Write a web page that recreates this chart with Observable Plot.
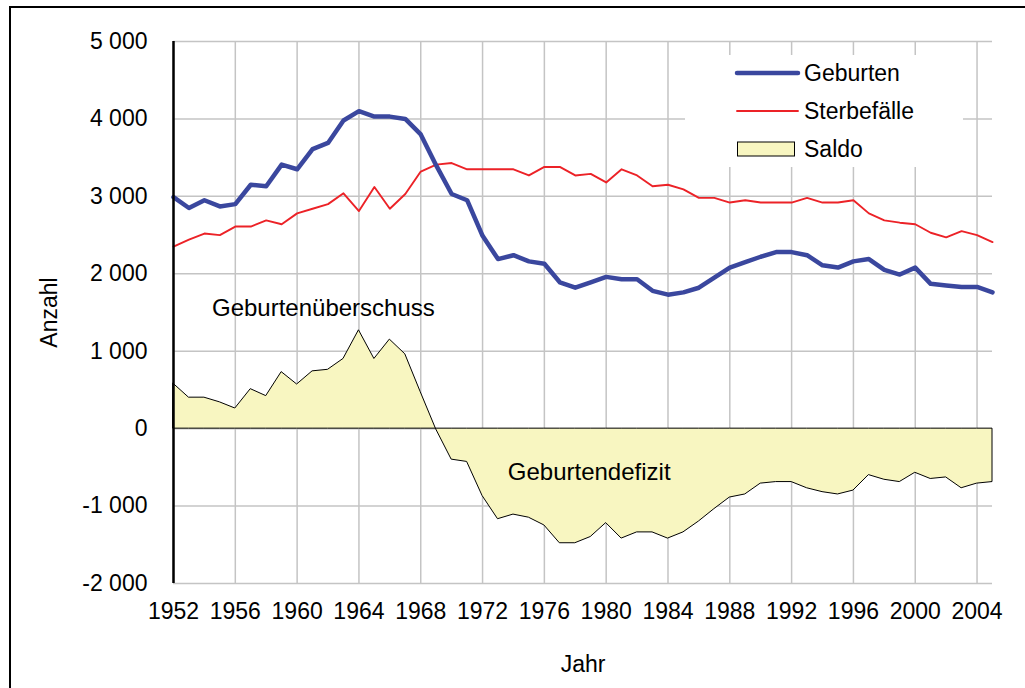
<!DOCTYPE html>
<html>
<head>
<meta charset="utf-8">
<script src="https://cdn.jsdelivr.net/npm/d3@7"></script>
<script src="https://cdn.jsdelivr.net/npm/@observablehq/plot@0.6"></script>
<style>
  html, body { margin: 0; padding: 0; background: #fff; overflow: hidden; }
  #wrap { position: relative; width: 1025px; height: 688px; overflow: hidden; font-family: "Liberation Sans", Arial, sans-serif; }
  #frame { position: absolute; left: 9px; top: 6px; width: 1100px; height: 760px; border: 2px solid #000; box-sizing: border-box; pointer-events: none; }
  #chart { position: absolute; left: 0; top: 0; }
  #legend { position: absolute; left: 685px; top: 55px; width: 278px; height: 112px; background: #fff; }
</style>
</head>
<body>
<div id="wrap">
  <div id="chart"></div>
  <div id="legend"></div>
  <div id="frame"></div>
</div>
<script>
const years = [1952,1953,1954,1955,1956,1957,1958,1959,1960,1961,1962,1963,1964,1965,1966,1967,1968,1969,1970,1971,1972,1973,1974,1975,1976,1977,1978,1979,1980,1981,1982,1983,1984,1985,1986,1987,1988,1989,1990,1991,1992,1993,1994,1995,1996,1997,1998,1999,2000,2001,2002,2003,2004,2005];
const geburten = [2990,2850,2950,2870,2900,3150,3130,3410,3350,3610,3690,3980,4100,4030,4030,4000,3800,3400,3030,2950,2490,2190,2240,2160,2130,1890,1820,1890,1960,1930,1930,1780,1730,1760,1820,1950,2080,2150,2220,2280,2280,2240,2110,2080,2160,2190,2050,1990,2080,1870,1850,1830,1830,1760];
const sterbefaelle = [2350,2440,2520,2500,2610,2610,2690,2640,2780,2840,2900,3040,2810,3120,2840,3030,3320,3410,3430,3350,3350,3350,3350,3270,3380,3380,3270,3290,3180,3350,3270,3130,3150,3090,2980,2980,2920,2950,2920,2920,2920,2980,2920,2920,2950,2780,2690,2660,2640,2530,2470,2550,2500,2410];
const saldo = [580,400,400,340,260,510,420,730,570,740,760,900,1270,900,1150,960,470,-10,-400,-430,-870,-1170,-1110,-1150,-1250,-1480,-1480,-1400,-1220,-1420,-1340,-1340,-1420,-1340,-1200,-1040,-890,-850,-710,-690,-690,-770,-820,-850,-800,-600,-660,-690,-570,-650,-630,-770,-710,-690];
const xTicks = [1952,1956,1960,1964,1968,1972,1976,1980,1984,1988,1992,1996,2000,2004];
const yTicks = [-2000,-1000,0,1000,2000,3000,4000,5000];
const seriesNames = ["Geburten","Sterbefälle","Saldo"];
const annotations = [
  {text: "Geburtenüberschuss", year: 1961.7, value: 1550},
  {text: "Geburtendefizit", year: 1978.9, value: -560}
];

const colors = {blue: "#3a479e", red: "#ec2227", fill: "#f8f6c1"};

const rows = years.map((y, i) => ({year: y, geburten: geburten[i], sterbe: sterbefaelle[i], saldo: saldo[i]}));
const fmt = d3.formatLocale({decimal: ",", thousands: " ", grouping: [3], currency: ["", ""], minus: "-"}).format(",d");

const chart = Plot.plot({
  width: 1025,
  height: 688,
  marginLeft: 173,
  marginRight: 33,
  marginTop: 41,
  marginBottom: 105,
  style: {fontFamily: '"Liberation Sans", Arial, sans-serif', fontSize: "23px", color: "#000", background: "transparent"},
  x: {domain: [1952, 2005]},
  y: {domain: [-2000, 5000]},
  marks: [
    Plot.gridX(xTicks, {stroke: "#c4c4c4", strokeOpacity: 1, strokeWidth: 1.5}),
    Plot.gridY(yTicks, {stroke: "#c4c4c4", strokeOpacity: 1, strokeWidth: 1.5}),
    Plot.areaY(rows, {x: "year", y: "saldo", fill: colors.fill, stroke: "#000", strokeWidth: 1}),
    Plot.line(rows, {x: "year", y: "sterbe", stroke: colors.red, strokeWidth: 1.9}),
    Plot.line(rows, {x: "year", y: "geburten", stroke: colors.blue, strokeWidth: 4.5, strokeLinejoin: "round"}),
    Plot.ruleX([1952], {y1: -2000, y2: 5000, stroke: "#000", strokeWidth: 2.5}),
    Plot.text(annotations, {x: "year", y: "value", text: "text", fontSize: 24, fill: "#000"}),
    Plot.axisX({ticks: xTicks, tickFormat: d => String(d), tickSize: 0, tickPadding: 19, fontSize: 23,
      label: "Jahr", labelAnchor: "center", labelOffset: 88, labelArrow: "none"}),
    Plot.axisY({ticks: yTicks, tickFormat: fmt, tickSize: 0, tickPadding: 26, fontSize: 23,
      label: "Anzahl", labelAnchor: "center", labelOffset: 133, labelArrow: "none"})
  ]
});
document.getElementById("chart").appendChild(chart);

// Legend
const lg = d3.select("#legend").append("svg").attr("width", 278).attr("height", 112)
  .style("font-family", '"Liberation Sans", Arial, sans-serif').style("font-size", "23px");
const items = [
  {name: seriesNames[0], kind: "line", color: colors.blue, w: 4.5, cy: 18},
  {name: seriesNames[1], kind: "line", color: colors.red, w: 1.9, cy: 56},
  {name: seriesNames[2], kind: "rect", color: colors.fill, cy: 94}
];
items.forEach(it => {
  if (it.kind === "line") {
    lg.append("line").attr("x1", 52).attr("x2", 113).attr("y1", it.cy).attr("y2", it.cy)
      .attr("stroke", it.color).attr("stroke-width", it.w).attr("stroke-linecap", "round");
  } else {
    lg.append("rect").attr("x", 52.5).attr("y", it.cy - 7).attr("width", 57).attr("height", 14)
      .attr("fill", it.color).attr("stroke", "#000").attr("stroke-width", 1);
  }
  lg.append("text").attr("x", 119).attr("y", it.cy).attr("dy", "0.35em").text(it.name);
});
</script>
</body>
</html>
